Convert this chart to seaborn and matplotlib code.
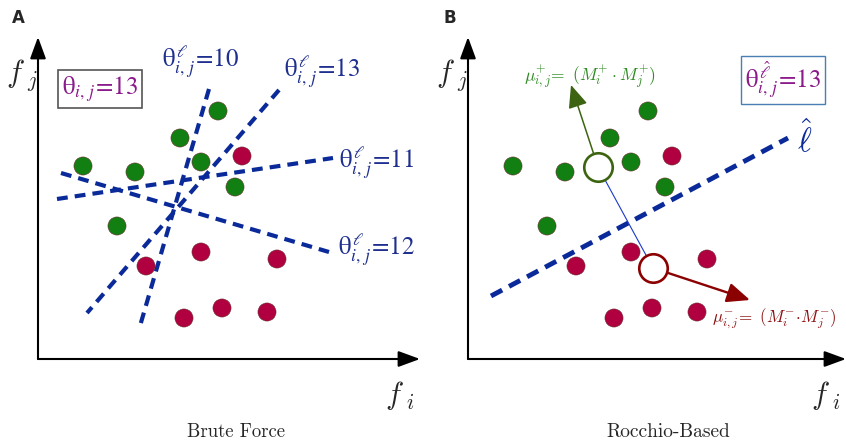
import matplotlib
matplotlib.use("Agg")
import matplotlib.pyplot as plt
import seaborn as sns
import pandas as pd

# 数据：两个面板共用同一组样本点（坐标单位：相对原点）
green_x = [45, 97, 142, 180, 163, 197, 79]
green_y = [193, 187, 221, 248, 197, 172, 133]
red_x = [204, 108, 163, 239, 146, 184, 229]
red_y = [203, 93, 107, 100, 41, 51, 47]

# Brute Force 的候选分割线 (x0, y0, x1, y1)
brute_names = ["10", "13", "11", "12"]
brute_lines = [(171, 270, 102, 33), (241, 269, 49, 46), (19, 160, 295, 201), (23, 186, 291, 107)]
brute_label_pos = [(163, 297), (284, 287), (339, 196), (339, 109)]

# Rocchio 质心与分割线
centroid_pos = (130, 192)
centroid_neg = (185, 91)
arrow_pos_tip = (103, 274)
arrow_neg_tip = (282, 59)
rocchio_line = (23, 63, 320, 221)

GREEN = "#127f12"
RED = "#b0003f"
LINE = "#0b2a99"
TXT_BLUE = "#1f2f8f"
PURPLE = "#8b1a8b"

sns.set_style("white")
plt.rcParams["font.family"] = ["DejaVu Sans"]

pts = pd.DataFrame({
    "x": green_x + red_x,
    "y": green_y + red_y,
    "cls": ["pos"] * len(green_x) + ["neg"] * len(red_x),
})

fig = plt.figure(figsize=(8.46, 4.41), dpi=100)
axA = fig.add_axes([38 / 846, 82 / 441, 382 / 846, 322 / 441])
axB = fig.add_axes([468 / 846, 82 / 441, 378 / 846, 322 / 441])


def setup(ax, xmax):
    ax.set_xlim(0, xmax)
    ax.set_ylim(0, 322)
    ax.axis("off")
    arr = dict(arrowstyle="-|>,head_length=0.6,head_width=0.22", color="black",
               lw=1.5, mutation_scale=22, shrinkA=0, shrinkB=0)
    ax.annotate("", xy=(xmax, 0), xytext=(0, 0), arrowprops=arr, annotation_clip=False)
    ax.annotate("", xy=(0, 322), xytext=(0, 0), arrowprops=arr, annotation_clip=False)
    ax.text(-16, 284, r"$f_{\ j}$", fontsize=22, math_fontfamily="cm", ha="center", va="center")
    ax.text(xmax - 20, -36, r"$f_{\ i}$", fontsize=22, math_fontfamily="cm", ha="center", va="center")
    sns.scatterplot(data=pts, x="x", y="y", hue="cls", palette={"pos": GREEN, "neg": RED},
                    s=170, edgecolor="#6a3030", linewidth=0.4, legend=False, ax=ax, zorder=3)
    ax.set_xlabel("")
    ax.set_ylabel("")


setup(axA, 382)
setup(axB, 378)

# ---- 面板 A ----
for name, (x0, y0, x1, y1), (lx, ly) in zip(brute_names, brute_lines, brute_label_pos):
    axA.plot([x0, x1], [y0, y1], color=LINE, lw=3, dashes=(2.6, 1.7), zorder=2)
    axA.text(lx, ly, r"$\mathrm{\theta}^{\,\ell}_{i,\,j}\!=\!" + name + "$", fontsize=18,
             math_fontfamily="stix", color=TXT_BLUE, ha="center", va="center")

axA.text(62, 270, r"$\mathrm{\theta}_{i,\,j}\!=\!13$", fontsize=18, math_fontfamily="stix",
         color=PURPLE, ha="center", va="center",
         bbox=dict(boxstyle="square,pad=0.15", fc="white", ec="#555555", lw=1.2))
fig.text(18 / 846, 1 - 18 / 441, "A", fontsize=12, fontweight="bold", ha="center", va="center")
fig.text(236 / 846, 1 - 432 / 441, "Brute Force", fontsize=13.5, family="cmr10",
         ha="center", va="center")

# ---- 面板 B ----
x0, y0, x1, y1 = rocchio_line
axB.plot([x0, x1], [y0, y1], color=LINE, lw=3.5, dashes=(2.6, 1.6), zorder=2)
axB.plot([centroid_pos[0], centroid_neg[0]], [centroid_pos[1], centroid_neg[1]],
         color="#1a3acc", lw=0.8, zorder=2)
axB.annotate("", xy=arrow_pos_tip, xytext=centroid_pos, zorder=2,
             arrowprops=dict(arrowstyle="-|>,head_length=0.7,head_width=0.3", color="#3d6410",
                             lw=1.1, mutation_scale=20, shrinkA=10, shrinkB=0))
axB.annotate("", xy=arrow_neg_tip, xytext=centroid_neg, zorder=2,
             arrowprops=dict(arrowstyle="-|>,head_length=0.7,head_width=0.3", color="#8b0000",
                             lw=1.7, mutation_scale=20, shrinkA=10, shrinkB=0))
axB.scatter(*centroid_pos, s=420, facecolor="white", edgecolor="#3d6410", lw=1.9, zorder=4)
axB.scatter(*centroid_neg, s=420, facecolor="white", edgecolor="#8b0000", lw=1.9, zorder=4)

axB.text(337, 219, r"$\hat{\ell}$", fontsize=24, math_fontfamily="cm", color=LINE,
         ha="center", va="center")
axB.text(315, 279, r"$\mathrm{\theta}^{\,\hat{\ell}}_{i,\,j}\!=\!13$", fontsize=18,
         math_fontfamily="stix", color=PURPLE, ha="center", va="center",
         bbox=dict(boxstyle="square,pad=0.15", fc="white", ec="#4a7fb5", lw=1.0))
axB.text(122, 282, r"$\mu^{+}_{i,j}\!=\ (M^{+}_{i}\cdot M^{+}_{j})$", fontsize=12.5,
         math_fontfamily="cm", color="#2e8b22", ha="center", va="center")
axB.text(244, 41, r"$\mu^{-}_{i,j}\!=\ (M^{-}_{i}\!\cdot\! M^{-}_{j})$", fontsize=12.3,
         math_fontfamily="cm", color="#8b1010", ha="left", va="center", clip_on=False)
fig.text(450 / 846, 1 - 18 / 441, "B", fontsize=12, fontweight="bold", ha="center", va="center")
fig.text(668 / 846, 1 - 432 / 441, "Rocchio-Based", fontsize=14, family="cmr10",
         ha="center", va="center")

fig.savefig("out.png", dpi=100)
